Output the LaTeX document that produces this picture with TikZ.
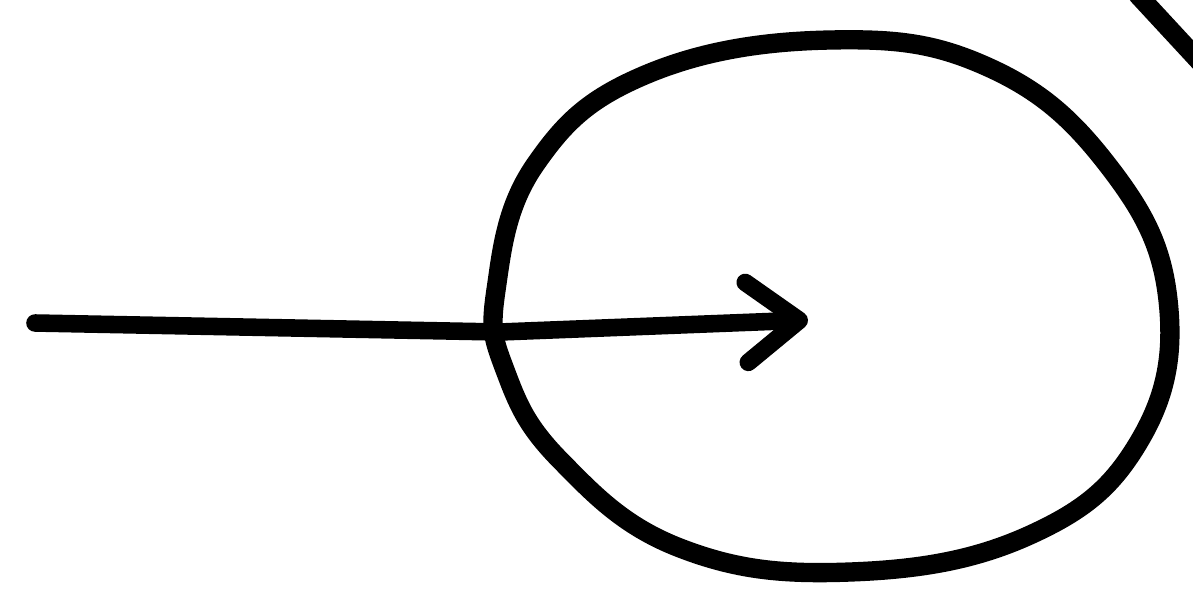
\documentclass[tikz,border=0pt]{standalone}
\usetikzlibrary{arrows.meta}

\begin{document}
\begin{tikzpicture}[x=0.02cm, y=-0.02cm, line cap=round, line join=round]

% Frame
\useasboundingbox (0,0) rectangle (1193,589);
\clip (0,0) rectangle (1193,589);
\fill[white] (0,0) rectangle (1193,589);

% Hand-drawn ring
\draw[line width=11pt]
  plot[smooth cycle, tension=0.7] coordinates {
    (496,290) (535,165) (645,75) (830,40) (990,68) (1110,168)
    (1168,300) (1140,440) (1030,535) (850,572) (680,548) (560,460) (505,370)};

% Arrow into the ring
\coordinate (start) at (35,323);
\coordinate (tip) at (808,320);
\draw[line width=10pt, -{Straight Barb[length=1.05cm, width=1.6cm, round]}]
  (start) -- (500,332) -- (tip);

% Stroke entering at the top-right corner
\draw[line width=11pt] (1138,-5) -- (1200,62);

\end{tikzpicture}
\end{document}
